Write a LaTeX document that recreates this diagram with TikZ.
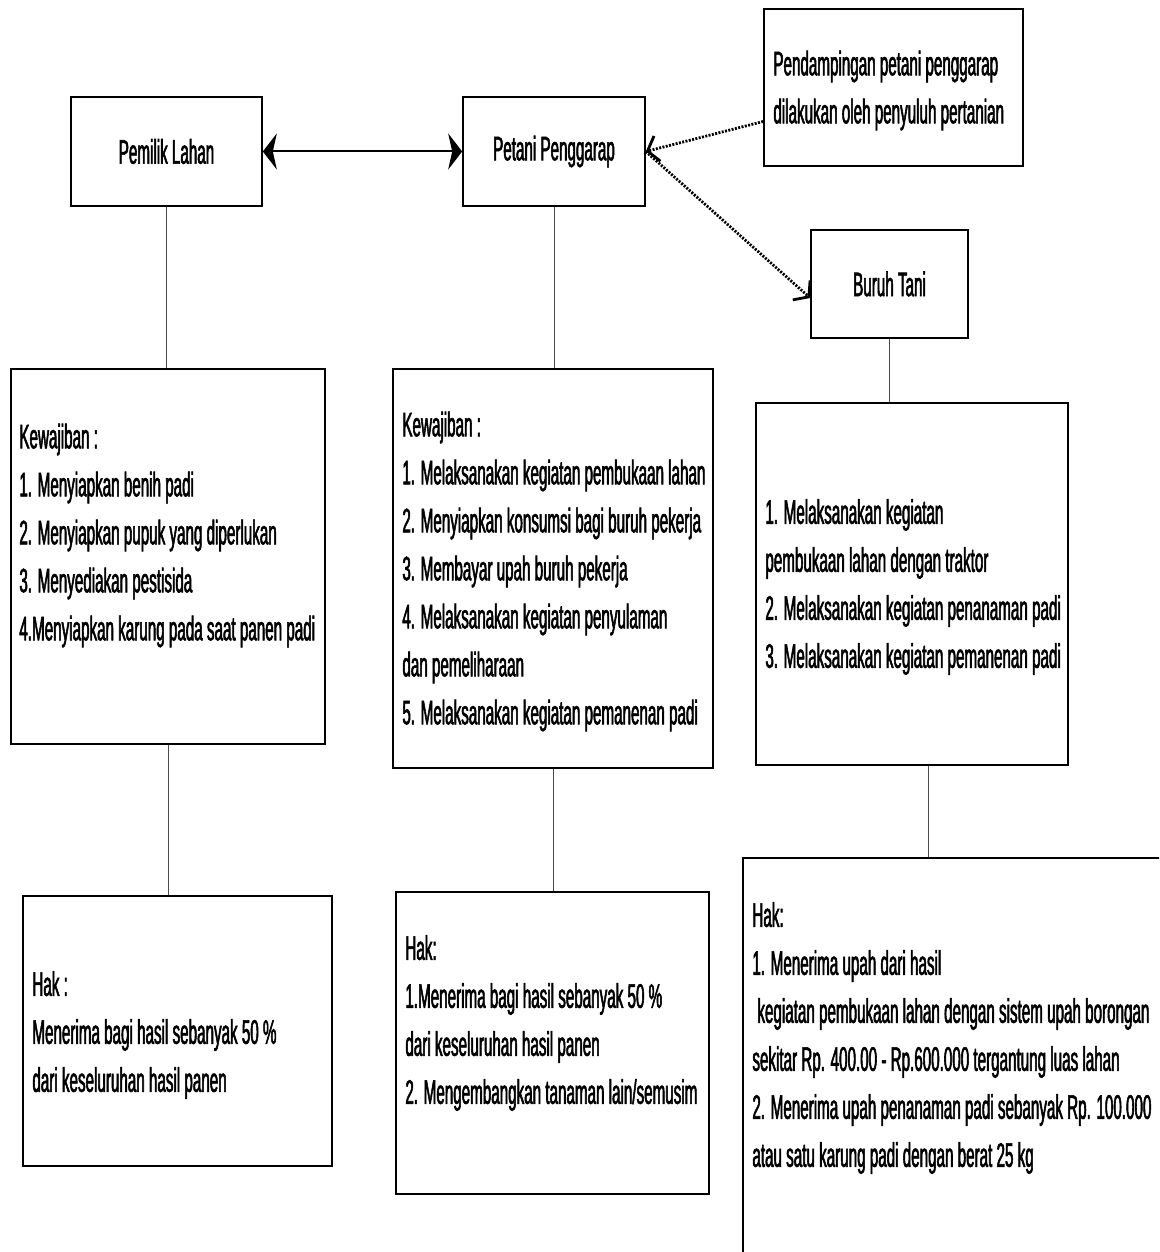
\documentclass[tikz,border=0pt]{standalone}
\usepackage{fontspec}
\setmainfont{Liberation Sans}[FakeStretch=0.447,FakeBold=1.6]
\usepackage{tikz}
\usepackage{xcolor}
\usetikzlibrary{shapes,arrows,arrows.meta,positioning}

\begin{document}
\begin{tikzpicture}[x=1pt, y=-1pt, every node/.style={font=\fontsize{34}{48}\selectfont}]
            \tikzstyle{box} = [rectangle, draw, line width=1.6pt, inner sep=0pt]
            \tikzstyle{txt} = [inner sep=0pt, align=left]
            \tikzstyle{link} = [draw=black!70, line width=1pt]
            \tikzstyle{both} = [line width=2pt, {Stealth[length=14pt,width=36pt,inset=4pt]}-{Stealth[length=14pt,width=36pt,inset=4pt]}]
            \tikzstyle{dots} = [line width=2.8pt, dash pattern=on 2pt off 1.4pt, -{Straight Barb[length=10pt,width=26pt,line width=2.8pt]}]

            \clip (0,0) rectangle (1159,1252);

            % top row
            \node [box, minimum width=191pt, minimum height=109pt] (pemilik) at (166.5,151.5) {Pemilik Lahan};
            \node [box, minimum width=182pt, minimum height=109pt] (petani) at (554,151.5) {Petani Penggarap};
            \node [box, minimum width=259pt, minimum height=157pt] (pendamping) at (893.5,87.5) {};
            \node [txt, right=10pt of pendamping.west, yshift=-3pt] (pendampingtxt) {Pendampingan petani penggarap\\dilakukan oleh penyuluh pertanian};
            \node [box, minimum width=157pt, minimum height=108pt] (buruh) at (889.5,284) {Buruh Tani};

            % kewajiban
            \node [box, minimum width=314pt, minimum height=375pt] (kwPemilik) at (168,556.5) {};
            \node [txt, right=9pt of kwPemilik.west, yshift=21pt] (kwPemiliktxt) {Kewajiban :\\1. Menyiapkan benih padi\\2. Menyiapkan pupuk yang diperlukan\\3. Menyediakan pestisida\\4.Menyiapkan karung pada saat panen padi};
            \node [box, minimum width=320pt, minimum height=399pt] (kwPetani) at (553,568.5) {};
            \node [txt, right=10pt of kwPetani.west, yshift=-3pt] (kwPetanitxt) {Kewajiban :\\1. Melaksanakan kegiatan pembukaan lahan\\2. Menyiapkan konsumsi bagi buruh pekerja\\3. Membayar upah buruh pekerja\\4. Melaksanakan kegiatan penyulaman\\dan pemeliharaan\\5. Melaksanakan kegiatan pemanenan padi};
            \node [box, minimum width=312pt, minimum height=362pt] (kwBuruh) at (912,584) {};
            \node [txt, right=10pt of kwBuruh.west, yshift=-3pt] (kwBuruhtxt) {1. Melaksanakan kegiatan\\pembukaan lahan dengan traktor\\2. Melaksanakan kegiatan penanaman padi\\3. Melaksanakan kegiatan pemanenan padi};

            % hak
            \node [box, minimum width=309pt, minimum height=270pt] (hakPemilik) at (177.5,1031) {};
            \node [txt, right=10pt of hakPemilik.west, yshift=-4pt] (hakPemiliktxt) {Hak :\\Menerima bagi hasil sebanyak 50 \%\\dari keseluruhan hasil panen};
            \node [box, minimum width=313pt, minimum height=302pt] (hakPetani) at (552.5,1043) {};
            \node [txt, right=10pt of hakPetani.west, yshift=20pt] (hakPetanitxt) {Hak:\\1.Menerima bagi hasil sebanyak 50 \%\\dari keseluruhan hasil panen\\2. Mengembangkan tanaman lain/semusim};
            \node [box, minimum width=457pt, minimum height=442pt] (hakBuruh) at (971.5,1079) {};
            \node [txt, right=10pt of hakBuruh.west, yshift=41pt] (hakBuruhtxt) {Hak:\\1. Menerima upah dari hasil\\\hspace{5pt}kegiatan pembukaan lahan dengan sistem upah borongan\\sekitar Rp. 400.00 - Rp.600.000 tergantung luas lahan\\2. Menerima upah penanaman padi sebanyak Rp. 100.000\\atau satu karung padi dengan berat 25 kg};

            % connectors
            \draw [both] (pemilik) -- (petani);
            \draw [dots] ([yshift=-34pt]pendamping.west) -- (petani.east);
            \draw [dots] (petani.east) -- ([yshift=-14pt]buruh.west);
            \draw [link] (pemilik.south) -- (pemilik.south |- kwPemilik.north);
            \draw [link] (petani.south) -- (petani.south |- kwPetani.north);
            \draw [link] (buruh.south) -- (buruh.south |- kwBuruh.north);
            \draw [link] (kwPemilik.south) -- (kwPemilik.south |- hakPemilik.north);
            \draw [link] (kwPetani.south) -- (kwPetani.south |- hakPetani.north);
            \draw [link] ([xshift=16pt]kwBuruh.south) -- ([xshift=16pt]kwBuruh.south |- hakBuruh.north);
        \end{tikzpicture}
\end{document}
